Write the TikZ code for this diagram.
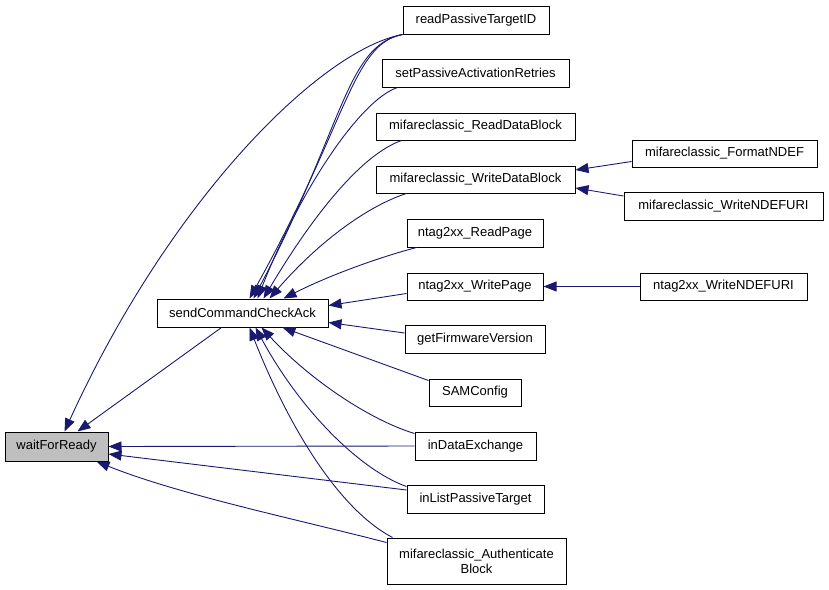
\documentclass[tikz,border=0pt]{standalone}
\usepackage{fontspec}
\setmainfont{Liberation Sans}
\usetikzlibrary{arrows.meta}
\definecolor{edgeblue}{HTML}{191970}
\begin{document}
\begin{tikzpicture}[x=1pt,y=-1pt,
  fbox/.style={draw=black,line width=1pt,inner sep=0pt,font=\fontsize{13}{15}\selectfont,align=center,fill=white},
  edge/.style={draw=edgeblue,line width=0.9pt,-{Triangle[length=13pt,width=10pt]}}]
\useasboundingbox (0,0) rectangle (829,589);
% nodes
\node[fbox,fill=gray!50,minimum width=103pt,minimum height=29pt] (wfr) at (56.5,446.5) {waitForReady};
\node[fbox,minimum width=171pt,minimum height=28pt] (scca) at (242.5,313) {sendCommandCheckAck};
\node[fbox,minimum width=146pt,minimum height=28pt] (rptid) at (476,20) {readPassiveTargetID};
\node[fbox,minimum width=187pt,minimum height=28pt] (spar) at (475.5,73) {setPassiveActivationRetries};
\node[fbox,minimum width=199pt,minimum height=27pt] (mrdb) at (475.5,126.5) {mifareclassic\_ReadDataBlock};
\node[fbox,minimum width=199pt,minimum height=27pt] (mwdb) at (475.5,179.5) {mifareclassic\_WriteDataBlock};
\node[fbox,minimum width=136pt,minimum height=28pt] (nrp) at (475,233) {ntag2xx\_ReadPage};
\node[fbox,minimum width=136pt,minimum height=27pt] (nwp) at (475,286.5) {ntag2xx\_WritePage};
\node[fbox,minimum width=140pt,minimum height=28pt] (gfv) at (475,339) {getFirmwareVersion};
\node[fbox,minimum width=92pt,minimum height=27pt] (sam) at (475,392.5) {SAMConfig};
\node[fbox,minimum width=121pt,minimum height=28pt] (ide) at (475.5,446) {inDataExchange};
\node[fbox,minimum width=137pt,minimum height=28pt] (ilpt) at (475.5,499) {inListPassiveTarget};
\node[fbox,minimum width=179pt,minimum height=46pt] (mab) at (476.5,561) {mifareclassic\_Authenticate\\Block};
\node[fbox,minimum width=185pt,minimum height=27pt] (mfn) at (724.5,153.5) {mifareclassic\_FormatNDEF};
\node[fbox,minimum width=199pt,minimum height=28pt] (mwnu) at (723.5,206) {mifareclassic\_WriteNDEFURI};
\node[fbox,minimum width=167pt,minimum height=27pt] (nwnu) at (723.5,286.5) {ntag2xx\_WriteNDEFURI};
% edges to waitForReady
\draw[edge] ([xshift=65pt]scca.south west) -- ([xshift=73pt]wfr.north west);
\draw[edge] (rptid.south west) .. controls (320,50) and (170,200) .. ([xshift=60pt]wfr.north west);
\draw[edge] (ide.west) -- (wfr.east);
\draw[edge] ([yshift=9pt]ilpt.west) -- ([yshift=-7.5pt]wfr.east);
\draw[edge] ([yshift=-5pt]mab.north west) .. controls (300,520) and (180,495) .. ([xshift=92pt]wfr.south west);
% edges to sendCommandCheckAck
\draw[edge] (rptid.south west) .. controls (352,44) and (348,122) .. ([xshift=93pt]scca.north west);
\draw[edge] (rptid.south west) .. controls (346,46) and (344,126) .. ([xshift=97pt]scca.north west);
\draw[edge] ([xshift=16pt]spar.south west) .. controls (360,100) and (300,190) .. ([xshift=101pt]scca.north west);
\draw[edge] ([xshift=26pt]mrdb.south west) .. controls (360,155) and (310,220) .. ([xshift=107pt]scca.north west);
\draw[edge] ([xshift=31pt]mwdb.south west) .. controls (370,205) and (320,240) .. ([xshift=113pt]scca.north west);
\draw[edge] ([xshift=10pt]nrp.south west) .. controls (380,257) and (330,275) .. ([xshift=127pt]scca.north west);
\draw[edge] ([yshift=-7pt]nwp.west) -- ([yshift=-7pt]scca.north east);
\draw[edge] ([yshift=6pt]gfv.west) -- ([yshift=5pt]scca.south east);
\draw[edge] ([yshift=-2pt]sam.north west) -- ([xshift=126pt]scca.south west);
\draw[edge] ([yshift=-2pt]ide.north west) .. controls (370,420) and (310,380) .. ([xshift=105pt]scca.south west);
\draw[edge] ([yshift=-2pt]ilpt.north west) .. controls (360,470) and (300,410) .. ([xshift=99pt]scca.south west);
\draw[edge] ([xshift=6pt]mab.north west) .. controls (340,510) and (290,430) .. ([xshift=93pt]scca.south west);
% right side
\draw[edge] ([yshift=-8pt]mfn.west) -- ([yshift=9.5pt]mwdb.east);
\draw[edge] ([yshift=10pt]mwnu.west) -- ([yshift=-8.5pt]mwdb.east);
\draw[edge] (nwnu.west) -- (nwp.east);
\end{tikzpicture}
\end{document}
